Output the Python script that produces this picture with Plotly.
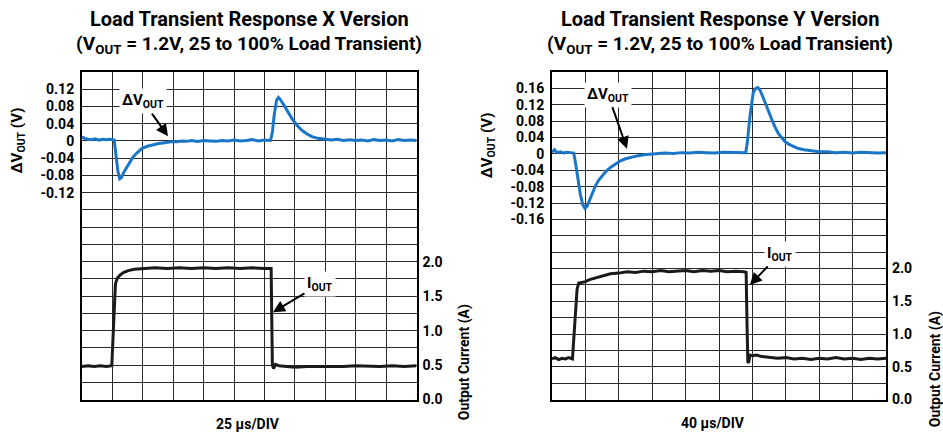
import plotly.graph_objects as go

# ---------------- data ----------------
# X version: time in microseconds (25 us/DIV), dV in volts, Iout in amps
x_v_time = [0, 2, 5, 8, 11, 14, 17, 20, 23, 26.5, 28, 29.5, 31, 32.5, 34.5, 37, 39.5, 42,
            45.5, 49, 53, 58, 63, 68, 73, 78, 82, 86, 90, 95, 100, 105, 110, 115, 120, 125,
            130, 135, 140, 145, 150, 155, 156.5, 158, 160, 161.5, 163, 166, 169.5, 173,
            177.5, 181, 185, 189, 194, 200, 205, 210, 215, 220, 225, 230, 235, 240, 245,
            250, 255, 260, 265, 270, 275]
x_v_vals = [0.010, 0.006, 0.004, 0.003, 0.005, 0.002, 0.004, 0.003, 0.004, 0.002, -0.035,
            -0.070, -0.088, -0.085, -0.072, -0.060, -0.050, -0.037, -0.027, -0.018, -0.013,
            -0.009, -0.006, -0.004, -0.002, -0.002, 0.000, -0.001, 0.001, -0.001, 0.001,
            0.000, -0.001, 0.001, 0.000, 0.002, 0.000, 0.001, 0.003, 0.000, 0.002, 0.001,
            0.020, 0.060, 0.095, 0.101, 0.096, 0.083, 0.067, 0.050, 0.034, 0.024, 0.016,
            0.010, 0.006, 0.004, 0.002, 0.004, 0.001, 0.003, 0.001, 0.002, 0.000, 0.003,
            0.001, 0.002, 0.000, 0.003, 0.001, 0.002, 0.001]
x_i_time = [0, 5, 10, 15, 20, 24.5, 25.5, 26.5, 27.5, 29, 31, 34, 38, 43, 50, 60, 70, 80,
            90, 100, 110, 120, 130, 140, 150, 155.5, 156, 156.5, 157.5, 159, 162, 168, 175,
            185, 195, 205, 215, 225, 235, 245, 255, 265, 275]
x_i_vals = [0.48, 0.49, 0.48, 0.49, 0.48, 0.49, 0.90, 1.40, 1.68, 1.76, 1.80, 1.84, 1.87,
            1.89, 1.90, 1.91, 1.90, 1.91, 1.90, 1.91, 1.90, 1.91, 1.90, 1.91, 1.90, 1.90,
            1.20, 0.50, 0.45, 0.51, 0.49, 0.48, 0.47, 0.48, 0.48, 0.47, 0.48, 0.49, 0.48,
            0.48, 0.49, 0.48, 0.49]

# Y version: 40 us/DIV
y_v_time = [0, 3, 6, 10, 14, 18, 22, 26, 28, 31, 34, 37, 39.5, 42, 45, 48, 52, 56, 60, 65,
            70, 76, 82, 88, 95, 102, 110, 118, 126, 135, 145, 155, 165, 175, 185, 195, 205,
            215, 225, 232, 234, 237, 241, 244, 246.5, 249, 252, 256, 259, 263, 267, 271,
            275, 279, 284, 289, 295, 302, 311, 320, 330, 340, 350, 360, 370, 380, 390, 400]
y_v_vals = [0.004, 0.010, 0.003, 0.005, 0.002, 0.004, 0.003, 0.002, -0.020, -0.060, -0.100,
            -0.125, -0.133, -0.128, -0.112, -0.095, -0.078, -0.064, -0.053, -0.042, -0.033,
            -0.024, -0.017, -0.012, -0.008, -0.005, -0.002, -0.001, 0.000, 0.002, 0.001,
            0.003, 0.002, 0.004, 0.003, 0.002, 0.004, 0.003, 0.002, 0.003, 0.030, 0.090,
            0.150, 0.160, 0.162, 0.156, 0.142, 0.120, 0.105, 0.085, 0.066, 0.050, 0.040,
            0.030, 0.023, 0.018, 0.013, 0.010, 0.007, 0.005, 0.005, 0.003, 0.004, 0.002,
            0.004, 0.003, 0.002, 0.003]
y_i_time = [0, 4, 8, 12, 16, 20, 24.5, 26, 28, 30, 32, 36, 40, 45, 50, 56, 62, 70, 80, 90,
            100, 110, 120, 130, 140, 150, 160, 170, 180, 190, 200, 210, 220, 230, 232.5,
            233.5, 234.5, 235.5, 237, 240, 245, 250, 256, 262, 270, 280, 290, 300, 310, 320,
            330, 340, 350, 360, 370, 380, 390, 400]
y_i_vals = [0.62, 0.64, 0.61, 0.63, 0.62, 0.64, 0.62, 0.90, 1.35, 1.68, 1.78, 1.79, 1.80,
            1.83, 1.85, 1.87, 1.89, 1.92, 1.93, 1.95, 1.94, 1.96, 1.95, 1.97, 1.95, 1.96,
            1.97, 1.95, 1.97, 1.96, 1.97, 1.95, 1.96, 1.95, 1.94, 1.20, 0.58, 0.56, 0.68,
            0.67, 0.68, 0.66, 0.65, 0.64, 0.63, 0.64, 0.62, 0.63, 0.61, 0.63, 0.62, 0.64,
            0.62, 0.63, 0.61, 0.63, 0.62, 0.63]

current_ticks = [0.0, 0.5, 1.0, 1.5, 2.0]
current_labels = ["0.0", "0.5", "1.0", "1.5", "2.0"]
x_v_ticks = [-0.12, -0.08, -0.04, 0.0, 0.04, 0.08, 0.12]
x_v_labels = ["-0.12", "-0.08", "-0.04", "0", "0.04", "0.08", "0.12"]
y_v_ticks = [-0.16, -0.12, -0.08, -0.04, 0.0, 0.04, 0.08, 0.12, 0.16]
y_v_labels = ["-0.16", "-0.12", "-0.08", "-0.04", "0", "0.04", "0.08", "0.12", "0.16"]

# ---------------- styling ----------------
W, H = 943, 438
FONT = "Roboto, Liberation Sans, sans-serif"
BLUE = "#1a76c6"
GRID = "#2a2a2a"

yd = [1 - 407 / H, 1 - 73.3 / H]

fig = go.Figure()
fig.add_trace(go.Scatter(x=x_v_time, y=x_v_vals, xaxis="x", yaxis="y", mode="lines",
                         line=dict(color=BLUE, width=3)))
fig.add_trace(go.Scatter(x=x_i_time, y=x_i_vals, xaxis="x", yaxis="y2", mode="lines",
                         line=dict(color="#1a1a1a", width=3)))
fig.add_trace(go.Scatter(x=y_v_time, y=y_v_vals, xaxis="x2", yaxis="y3", mode="lines",
                         line=dict(color=BLUE, width=3)))
fig.add_trace(go.Scatter(x=y_i_time, y=y_i_vals, xaxis="x2", yaxis="y4", mode="lines",
                         line=dict(color="#1a1a1a", width=3)))

tick_font = dict(family=FONT, size=14, color="black", weight="bold")

def xaxis_cfg(dom, rng, dt):
    return dict(domain=dom, range=rng, dtick=dt, tick0=0, showgrid=True, gridcolor=GRID,
                gridwidth=1, showticklabels=False, ticks="", showline=True, mirror=True,
                linecolor="black", linewidth=2, zeroline=False, fixedrange=True)

def vaxis_cfg(anchor, rng, vals, text):
    return dict(anchor=anchor, domain=yd, range=rng, tickmode="array", tickvals=vals,
                ticktext=text, showgrid=True, gridcolor=GRID, gridwidth=1, ticks="",
                minor=dict(dtick=0.04, tick0=0, showgrid=True, gridcolor=GRID,
                           gridwidth=1, ticks=""),
                tickfont=tick_font, showline=True, mirror=True, linecolor="black",
                linewidth=2, zeroline=False, fixedrange=True, ticklabelstandoff=3)

def iaxis_cfg(anchor, over, rng):
    return dict(anchor=anchor, overlaying=over, side="right", range=rng, tickmode="array",
                tickvals=current_ticks, ticktext=current_labels, showgrid=False, ticks="",
                tickfont=tick_font, showline=False, zeroline=False, fixedrange=True,
                ticklabelstandoff=5)

fig.update_layout(
    width=W, height=H, margin=dict(l=0, r=0, t=0, b=0),
    paper_bgcolor="white", plot_bgcolor="white", showlegend=False,
    font=dict(family=FONT, color="black"),
    xaxis=xaxis_cfg([82 / W, 416.5 / W], [0, 275], 25),
    yaxis=vaxis_cfg("x", [-0.6, 0.16], x_v_ticks, x_v_labels),
    yaxis2=iaxis_cfg("x", "y", [0, 4.75]),
    xaxis2=xaxis_cfg([552 / W, 886 / W], [0, 400], 40),
    yaxis3=vaxis_cfg("x2", [-0.6, 0.2], y_v_ticks, y_v_labels),
    yaxis4=iaxis_cfg("x2", "y3", [0, 5.0]),
)

def txt(x, y, s, size=16, angle=0):
    fig.add_annotation(x=x / W, y=1 - y / H, xref="paper", yref="paper", text=s,
                       showarrow=False, textangle=angle, xanchor="center", yanchor="middle",
                       font=dict(family=FONT, size=size, color="black", weight="bold"))

# titles
txt(249, 19, "Load Transient Response X Version", 20)
txt(249, 45, "(V<sub>OUT</sub> = 1.2V, 25 to 100% Load Transient)", 19)
txt(720, 19, "Load Transient Response Y Version", 20)
txt(720, 45, "(V<sub>OUT</sub> = 1.2V, 25 to 100% Load Transient)", 19)
# axis titles
txt(18, 143, "ΔV<sub>OUT</sub> (V)", 15, -90)
txt(488, 148, "ΔV<sub>OUT</sub> (V)", 15, -90)
txt(464, 369, "Output Current (A)", 14, -90)
txt(935, 376, "Output Current (A)", 14, -90)
txt(248, 432, "25 µs/DIV", 14)
txt(713, 431, "40 µs/DIV", 14)

def callout(xr, yr, x, y, ax, ay, s):
    fig.add_annotation(x=x, y=y, xref=xr, yref=yr, ax=ax, ay=ay, text=s, showarrow=True,
                       arrowhead=2, arrowsize=1.2, arrowwidth=2, arrowcolor="black",
                       bgcolor="white", borderpad=2,
                       font=dict(family=FONT, size=15, color="black", weight="bold"))

callout("x", "y", 70.7, 0.011, -25, -35, "ΔV<sub>OUT</sub>")
callout("x", "y2", 157, 1.267, 47, -28, "I<sub>OUT</sub>")
callout("x2", "y3", 89.8, 0.0127, -19, -54, "ΔV<sub>OUT</sub>")
callout("x2", "y4", 237, 1.75, 30, -31, "I<sub>OUT</sub>")

fig.write_html("out.html", config={"displayModeBar": False},
               post_script="document.body.style.margin='0px';")
